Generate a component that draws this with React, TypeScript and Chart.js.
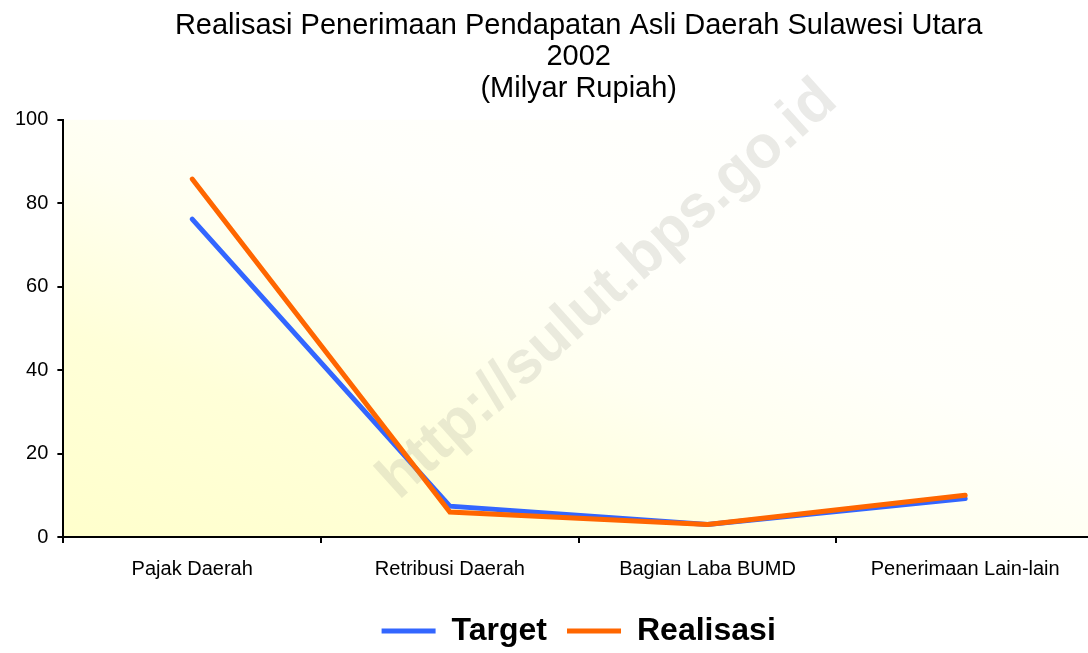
import { useEffect, useRef } from "react";
import { Chart, registerables } from "chart.js";

Chart.register(...registerables);

const FONT = '"Liberation Sans", Arial, sans-serif';

const titleLines = [
  "Realisasi Penerimaan Pendapatan Asli Daerah Sulawesi Utara",
  "2002",
  "(Milyar Rupiah)",
];
const categories = ["Pajak Daerah", "Retribusi Daerah", "Bagian Laba BUMD", "Penerimaan Lain-lain"];
const seriesNames = ["Target", "Realisasi"];
const targetValues = [76.2, 7.4, 3.0, 9.2];
const realisasiValues = [85.8, 6.0, 3.0, 10.0];
const yTickValues = [0, 20, 40, 60, 80, 100];
const watermarkText = "http://sulut.bps.go.id";

const bgPlugin = {
  id: "plotBg",
  beforeDraw(chart: any) {
    const { ctx, chartArea } = chart;
    if (!chartArea) return;
    const { left, top, right, bottom } = chartArea;
    const W = right - left;
    const H = bottom - top;
    const f = (2 * W * H) / (W * W + H * H);
    const g = ctx.createLinearGradient(left, bottom, left + H * f, bottom - W * f);
    g.addColorStop(0, "#FFFFCC");
    g.addColorStop(0.25, "#FFFFD8");
    g.addColorStop(0.45, "#FFFFF0");
    g.addColorStop(0.6, "#FFFFFA");
    g.addColorStop(1, "#FFFFFF");
    ctx.save();
    ctx.fillStyle = g;
    ctx.fillRect(left, top, W, H);
    ctx.restore();
  },
};

const watermarkPlugin = {
  id: "watermark",
  afterDraw(chart: any) {
    const { ctx } = chart;
    ctx.save();
    ctx.translate(608, 290);
    ctx.rotate((-42 * Math.PI) / 180);
    ctx.font = `bold 60px ${FONT}`;
    ctx.textAlign = "center";
    ctx.textBaseline = "middle";
    ctx.fillStyle = "rgba(150,150,140,0.2)";
    ctx.fillText(watermarkText, 0, 0);
    ctx.restore();
  },
};

export default function App() {
  const ref = useRef<HTMLCanvasElement | null>(null);

  useEffect(() => {
    if (!ref.current) return;
    const axisGrid = {
      display: true,
      drawOnChartArea: false,
      drawTicks: true,
      tickLength: 6,
      color: "#000",
      lineWidth: 2,
    };
    const chart = new Chart(ref.current, {
      type: "line",
      data: {
        labels: categories,
        datasets: [
          {
            label: seriesNames[0],
            data: targetValues,
            borderColor: "#3366FF",
            backgroundColor: "#3366FF",
            borderWidth: 5,
            pointRadius: 0,
            borderCapStyle: "round",
            borderJoinStyle: "miter",
            tension: 0,
            order: 1,
          },
          {
            label: seriesNames[1],
            data: realisasiValues,
            borderColor: "#FF6600",
            backgroundColor: "#FF6600",
            borderWidth: 5,
            pointRadius: 0,
            borderCapStyle: "round",
            borderJoinStyle: "miter",
            tension: 0,
            order: 0,
          },
        ],
      },
      options: {
        animation: false,
        responsive: true,
        maintainAspectRatio: false,
        layout: { padding: { left: 6, right: 0, top: 0, bottom: 0 } },
        plugins: {
          title: {
            display: true,
            text: titleLines,
            color: "#000",
            fullSize: false,
            font: { family: FONT, size: 29, weight: "normal", lineHeight: 1.09 },
            padding: { top: 10, bottom: 15 },
          },
          legend: {
            position: "bottom",
            fullSize: false,
            labels: {
              usePointStyle: true,
              pointStyle: "line",
              pointStyleWidth: 54,
              color: "#000",
              padding: 20,
              font: { family: FONT, size: 32, weight: "bold" },
              sort: (a: any, b: any) => a.datasetIndex - b.datasetIndex,
            },
          },
          tooltip: { enabled: false },
        },
        scales: {
          x: {
            offset: true,
            grid: { ...axisGrid, offset: true },
            border: { display: true, color: "#000", width: 2 },
            ticks: {
              color: "#000",
              font: { family: FONT, size: 20 },
              padding: 14,
              maxRotation: 0,
              autoSkip: false,
            },
          },
          y: {
            min: 0,
            max: 100,
            afterBuildTicks: (s: any) => {
              s.ticks = yTickValues.map((v) => ({ value: v }));
            },
            grid: axisGrid,
            border: { display: true, color: "#000", width: 2 },
            ticks: {
              color: "#000",
              font: { family: FONT, size: 20 },
              padding: 9,
            },
          },
        },
      },
      plugins: [bgPlugin, watermarkPlugin],
    } as any);
    return () => chart.destroy();
  }, []);

  return (
    <div style={{ position: "fixed", left: 0, top: 0, right: 0, bottom: 0, overflow: "hidden", background: "#fff" }}>
      <div style={{ position: "absolute", left: 0, top: 0, width: 1094, height: 657 }}>
        <canvas ref={ref} />
      </div>
    </div>
  );
}
